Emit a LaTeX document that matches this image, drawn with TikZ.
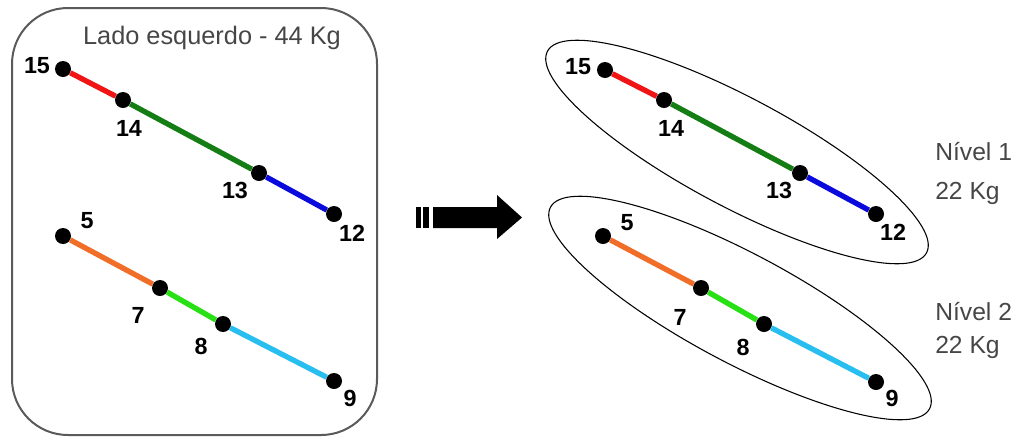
\documentclass[tikz,border=0pt]{standalone}
\usepackage{fontspec}
\setmainfont{Liberation Sans}
\usetikzlibrary{shapes.geometric}
\definecolor{cred}{RGB}{240,20,20}
\definecolor{cgreen}{RGB}{20,125,20}
\definecolor{cblue}{RGB}{10,10,220}
\definecolor{corange}{RGB}{240,110,40}
\definecolor{clime}{RGB}{40,225,20}
\definecolor{ccyan}{RGB}{40,190,240}
\definecolor{boxgray}{RGB}{90,90,90}
\definecolor{txtgray}{RGB}{70,70,70}
\tikzset{
  dot/.style={circle,fill=black,inner sep=0pt,minimum size=12pt},
  seg/.style={line width=4pt},
  num/.style={font=\fontsize{17.5}{20}\selectfont\bfseries,inner sep=0pt},
  lbl/.style={font=\fontsize{18.5}{22}\selectfont,text=txtgray,inner sep=0pt,anchor=west},
  grp/.style={ellipse,draw=black,line width=0.8pt,minimum width=322pt,minimum height=82pt,rotate=-28,inner sep=0pt}
}
\begin{document}
\begin{tikzpicture}[x=0.75pt,y=-0.75pt]
\useasboundingbox (0,0) rectangle (1020,437);
% left box
\draw[boxgray,line width=1.5pt,rounded corners=42pt] (12,8) rectangle (377,435);
\node[font=\fontsize{19}{22}\selectfont,text=txtgray,inner sep=0pt] (title) at (212,38) {Lado esquerdo - 44 Kg};
% left dots
\node[dot] (a15) at (63,69) {};
\node[dot] (a14) at (123,100) {};
\node[dot] (a13) at (259,173) {};
\node[dot] (a12) at (334,214) {};
\node[dot] (a5) at (63,236) {};
\node[dot] (a7) at (160,288) {};
\node[dot] (a8) at (223,324) {};
\node[dot] (a9) at (334,381) {};
\draw[seg,cred] (a15) -- (a14);
\draw[seg,cgreen] (a14) -- (a13);
\draw[seg,cblue] (a13) -- (a12);
\draw[seg,corange] (a5) -- (a7);
\draw[seg,clime] (a7) -- (a8);
\draw[seg,ccyan] (a8) -- (a9);
\node[num] (la15) at (37,66) {15};
\node[num] (la14) at (129,128) {14};
\node[num] (la13) at (235,190) {13};
\node[num] (la12) at (352,233) {12};
\node[num] (la5) at (87,221) {5};
\node[num] (la7) at (138,315) {7};
\node[num] (la8) at (201,346) {8};
\node[num] (la9) at (350,398) {9};
% arrow
\fill[black] (416,207) rectangle (421,228);
\fill[black] (423,207) rectangle (429,228);
\fill[black] (433,207) -- (497,207) -- (497,195) -- (522,217.5) -- (497,239) -- (497,228) -- (433,228) -- cycle;
% right ellipses
\node[grp] (e1) at (737,152) {};
\node[grp] (e2) at (740,308) {};
% right dots
\node[dot] (b15) at (605,70) {};
\node[dot] (b14) at (664,100) {};
\node[dot] (b13) at (800,173) {};
\node[dot] (b12) at (876,214) {};
\node[dot] (b5) at (603,236) {};
\node[dot] (b7) at (701,288) {};
\node[dot] (b8) at (764,324) {};
\node[dot] (b9) at (876,382) {};
\draw[seg,cred] (b15) -- (b14);
\draw[seg,cgreen] (b14) -- (b13);
\draw[seg,cblue] (b13) -- (b12);
\draw[seg,corange] (b5) -- (b7);
\draw[seg,clime] (b7) -- (b8);
\draw[seg,ccyan] (b8) -- (b9);
\node[num] (lb15) at (578,67) {15};
\node[num] (lb14) at (671,128) {14};
\node[num] (lb13) at (779,190) {13};
\node[num] (lb12) at (893,232) {12};
\node[num] (lb5) at (627,223) {5};
\node[num] (lb7) at (680,317) {7};
\node[num] (lb8) at (743,347) {8};
\node[num] (lb9) at (892,398) {9};
% level labels
\node[lbl] (n1) at (935,152) {Nível 1};
\node[lbl] (k1) at (935,193) {22 Kg};
\node[lbl] (n2) at (935,312) {Nível 2};
\node[lbl] (k2) at (935,347) {22 Kg};
\end{tikzpicture}
\end{document}
